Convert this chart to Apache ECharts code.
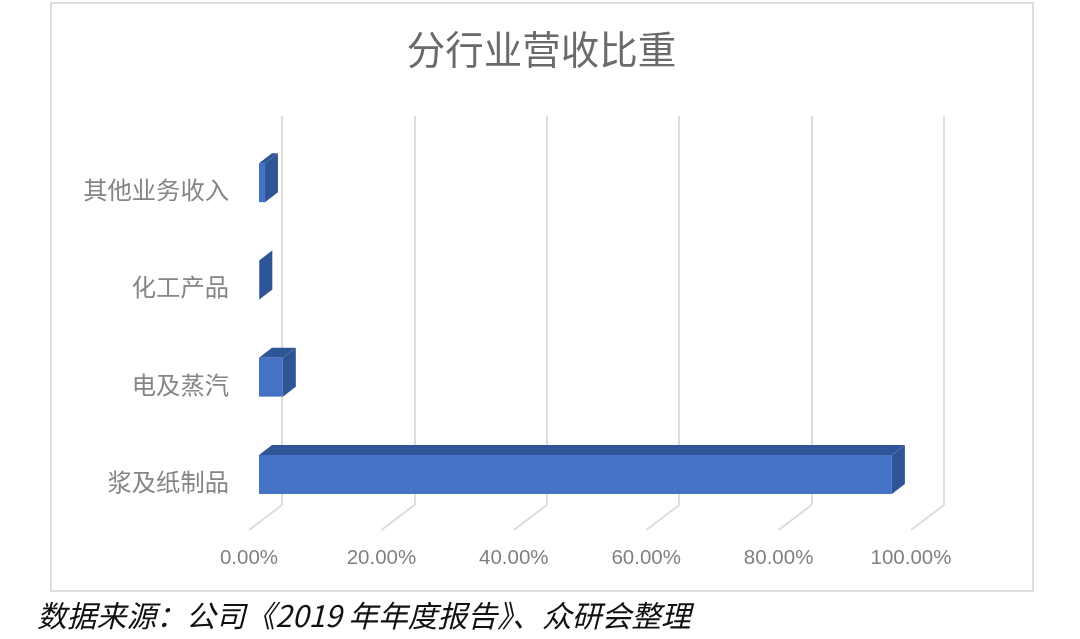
<!DOCTYPE html>
<html><head><meta charset="utf-8">
<style>html,body{margin:0;padding:0;background:#fff}#c{width:1080px;height:639px}</style>
<script src="https://cdn.jsdelivr.net/npm/echarts@6/dist/echarts.min.js"></script>
</head><body><div id="c"></div>
<script>
const categories = ['浆及纸制品', '电及蒸汽', '化工产品', '其他业务收入'];
const shares = [95.6, 3.6, 0.05, 0.9];
const ticks = [0, 20, 40, 60, 80, 100];
const titleText = '分行业营收比重';
const sourceText = '数据来源\uFF1A公司《2019 年年度报告》、众研会整理';

const FRONT_X = -23, FRONT_Y = 18, HALF = 19.5, DX = 13, DY = -10;
const FRONT = '#4472C4', SIDE = '#2F5597', TOP = '#2F5597';
const cjk = '"Noto Sans CJK SC","Noto Sans",sans-serif';

const chart = echarts.init(document.getElementById('c'), null, {renderer: 'canvas'});
chart.setOption({
  animation: false,
  backgroundColor: '#fff',
  title: {
    text: titleText, left: 536.5, top: 25, textAlign: 'center',
    textStyle: {fontFamily: cjk, fontSize: 38.5, fontWeight: 'normal', color: '#6A6A6A'}
  },
  grid: {left: 282, top: 116, width: 662, height: 389},
  xAxis: {
    type: 'value', min: 0, max: 100, interval: 20,
    axisLine: {show: false}, axisTick: {show: false},
    splitLine: {show: true, lineStyle: {color: '#DCDCDC', width: 2}},
    axisLabel: {
      margin: 43, padding: [0, 66, 0, 0], showMinLabel: true, showMaxLabel: true,
      fontFamily: '"Liberation Sans",sans-serif', fontSize: 20.5, color: '#7F7F7F',
      formatter: v => v.toFixed(2) + '%'
    }
  },
  yAxis: {
    type: 'category', data: categories,
    axisLine: {show: false}, axisTick: {show: false}, splitLine: {show: false},
    axisLabel: {margin: 53, verticalAlign: 'top', padding: [13, 0, 0, 0], fontFamily: cjk, fontSize: 24.3, color: '#858585'}
  },
  series: [
    {
      type: 'custom', silent: true, clip: false, z: 1,
      data: ticks.map(t => [t, 0]),
      encode: {x: 0, y: 1},
      renderItem(params, api) {
        const x = api.coord([api.value(0), 0])[0];
        const y = params.coordSys.y + params.coordSys.height;
        return {type: 'line', shape: {x1: x, y1: y, x2: x - 33, y2: y + 25},
          style: {stroke: '#DCDCDC', lineWidth: 2}};
      }
    },
    {
      type: 'custom', silent: true, clip: false, z: 3,
      data: shares.map((v, i) => [v, i]),
      encode: {x: 0, y: 1},
      renderItem(params, api) {
        const p = api.coord([api.value(0), api.value(1)]);
        const o = api.coord([0, api.value(1)]);
        const x0 = o[0] + FRONT_X, x1 = p[0] + FRONT_X;
        const t = p[1] + FRONT_Y - HALF, b = p[1] + FRONT_Y + HALF;
        const poly = (pts, fill) => ({type: 'polygon', shape: {points: pts}, style: {fill}});
        return {type: 'group', children: [
          poly([[x0, t], [x0 + DX, t + DY], [x1 + DX, t + DY], [x1, t]], TOP),
          poly([[x1, t], [x1 + DX, t + DY], [x1 + DX, b + DY], [x1, b]], SIDE),
          {type: 'rect', shape: {x: x0, y: t, width: x1 - x0, height: b - t}, style: {fill: FRONT}}
        ]};
      }
    }
  ],
  graphic: [
    {type: 'rect', z: -1, silent: true, shape: {x: 51, y: 3, width: 982, height: 588},
      style: {fill: 'none', stroke: '#DCDCDC', lineWidth: 2}},
    {type: 'text', silent: true, x: 37, y: 616,
      style: {text: sourceText, fontFamily: cjk, fontSize: 29.8, fontStyle: 'italic',
        fill: '#111', verticalAlign: 'middle'}}
  ]
});
</script></body></html>
